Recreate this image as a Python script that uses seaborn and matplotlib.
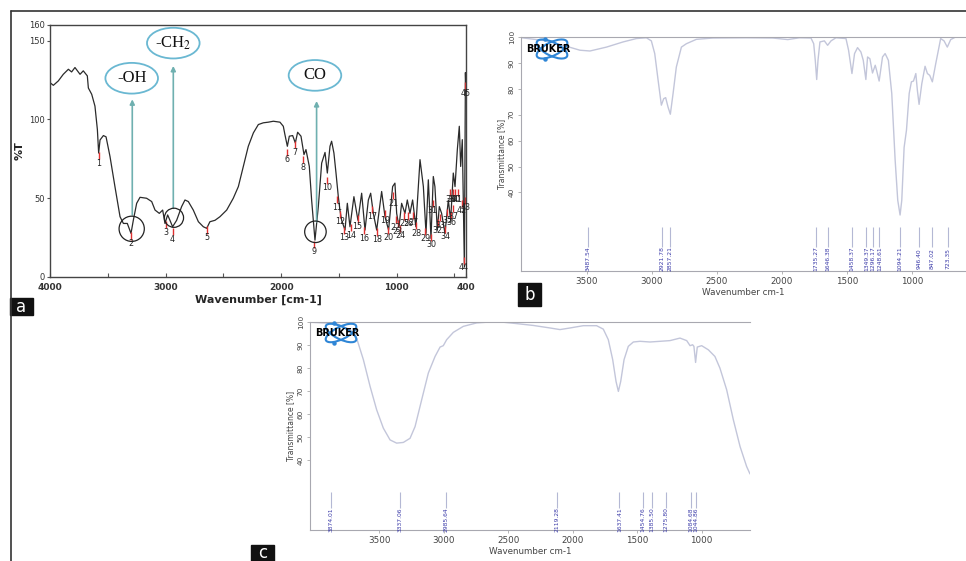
import matplotlib
matplotlib.use("Agg")
import matplotlib.pyplot as plt
import seaborn as sns
import pandas as pd
from matplotlib.patches import Ellipse, Rectangle
from matplotlib.lines import Line2D

# ---------------- panel a : FTIR (%T) ----------------
a_wn = [4000, 3971, 3928, 3885, 3841, 3813, 3784, 3740, 3712, 3677, 3668, 3639,
        3611, 3590, 3579, 3567, 3538, 3515, 3481, 3438, 3394, 3365, 3331, 3299,
        3279, 3250, 3221, 3164, 3120, 3091, 3054, 3025, 3005, 2982, 2962, 2939,
        2904, 2861, 2832, 2803, 2760, 2716, 2673, 2644, 2616, 2572, 2529, 2471,
        2414, 2370, 2327, 2284, 2240, 2197, 2154, 2111, 2067, 2010, 1981, 1967,
        1946, 1929, 1900, 1877, 1857, 1828, 1802, 1785, 1756, 1736, 1707, 1678,
        1649, 1620, 1600, 1577, 1563, 1543, 1525, 1505, 1491, 1476, 1447, 1427,
        1404, 1370, 1335, 1303, 1274, 1245, 1225, 1202, 1173, 1130, 1101, 1070,
        1035, 1015, 1000, 980, 957, 928, 908, 885, 862, 834, 798, 769, 746, 726,
        703, 683, 669, 648, 631, 611, 582, 553, 533, 510, 495, 475, 458, 446,
        432, 423, 414, 405, 400]
a_T = [123.4, 121.7, 124.5, 128.7, 131.9, 130.2, 133.0, 128.7, 130.9, 127.7, 120.0, 116.0,
       108.5, 93.6, 78.7, 87.0, 89.8, 89.0, 76.6, 57.4, 38.3, 34.0, 34.0, 27.7,
       36.0, 46.8, 50.6, 50.0, 47.9, 42.5, 40.4, 42.5, 34.0, 39.4, 36.0, 31.9,
       36.0, 44.7, 48.9, 47.9, 42.5, 35.1, 31.9, 30.9, 35.1, 36.0, 38.3, 42.5,
       50.0, 57.4, 70.2, 83.0, 91.5, 96.8, 97.9, 98.3, 98.9, 98.3, 95.7, 90.4,
       83.0, 89.4, 89.8, 85.1, 91.9, 89.4, 77.7, 80.9, 70.2, 48.9, 23.4, 44.7,
       72.3, 79.1, 66.0, 83.0, 86.2, 78.7, 66.0, 51.0, 42.5, 36.0, 29.8, 46.8,
       31.9, 51.0, 36.0, 53.2, 29.8, 48.9, 53.2, 40.4, 29.8, 54.3, 38.3, 29.8,
       57.4, 59.6, 40.4, 31.9, 46.8, 40.4, 48.9, 40.4, 48.9, 31.9, 74.5, 57.4, 27.7, 61.7,
       24.5, 63.8, 57.4, 29.8, 44.7, 40.4, 27.7, 48.9, 36.0, 66.0, 57.4, 80.9, 95.7, 70.2,
       87.2, 44.7, 6.4, 129.8, 117.0]

# numbered peaks (label position)
a_lbl = [str(i) for i in range(1, 46)]
a_lbl_wn = [3579, 3299, 2999, 2939, 2644, 1946, 1880, 1808, 1713, 1600,
            1514, 1491, 1453, 1398, 1338, 1280, 1211, 1173, 1101, 1072,
            1029, 1006, 992, 971, 934, 899, 856, 833, 752, 703,
            689, 646, 625, 582, 562, 530, 510, 539, 516, 493,
            470, 435, 406, 418, 406]
a_lbl_T = [72.3, 21.3, 28.3, 24.0, 25.1, 74.5, 79.1, 69.8, 16.1, 56.8,
           44.3, 35.0, 24.9, 26.4, 32.1, 24.5, 38.3, 23.8, 35.7, 24.9,
           46.8, 31.7, 29.0, 26.2, 34.0, 34.0, 34.5, 27.7, 24.3, 20.4,
           42.1, 29.8, 32.8, 25.5, 36.0, 34.3, 38.7, 49.0, 49.0, 49.0,
           49.0, 42.1, 44.0, 6.0, 116.6]

# functional group call-outs
grp_names = ["-OH", "-CH$_2$", "CO"]
grp_wn = [3288, 2933, 1693]
grp_from_T = [39.4, 43.6, 35.1]
grp_to_T = [112.8, 134.0, 111.7]
grp_box_wn = [3293, 2933, 1707]
grp_box_T = [126.2, 148.5, 128.0]
circ_wn = [3293, 2927, 1703]
circ_T = [30.6, 37.6, 28.7]
circ_size = [330, 190, 240]

# ---------------- panel b ----------------
b_wn = [3998, 3807, 3653, 3551, 3474, 3347, 3219, 3117, 3040, 3002, 2976, 2950,
        2925, 2907, 2892, 2874, 2856, 2835, 2810, 2771, 2733, 2656, 2529, 2273,
        2068, 1953, 1864, 1775, 1754, 1742, 1731, 1721, 1706, 1672, 1647, 1621,
        1583, 1506, 1486, 1460, 1440, 1417, 1391, 1373, 1353, 1340, 1322, 1302,
        1281, 1271, 1251, 1225, 1205, 1180, 1154, 1128, 1108, 1090, 1077, 1059,
        1041, 1020, 1003, 987, 969, 957, 944, 923, 898, 880, 862, 842, 816, 778,
        752, 727, 701, 663, 594]
b_T = [99.7, 98.5, 96.4, 94.9, 94.6, 96.1, 98.1, 99.4, 99.7, 98.5, 93.6, 83.3,
       73.7, 76.2, 76.6, 73.0, 70.2, 78.2, 88.4, 96.1, 97.4, 99.1, 99.6, 99.7,
       99.6, 99.0, 99.7, 99.6, 97.4, 91.0, 83.6, 91.0, 98.1, 98.5, 96.8, 98.5,
       99.7, 99.4, 94.9, 85.9, 93.6, 95.9, 94.2, 91.0, 83.6, 92.3, 91.6, 86.1,
       89.1, 87.2, 83.0, 92.3, 93.6, 91.0, 78.2, 52.5, 37.0, 31.3, 37.0, 57.4,
       64.0, 78.2, 82.7, 83.0, 85.9, 79.4, 74.0, 82.0, 88.7, 85.9, 85.2, 82.7, 89.7, 99.4,
       98.5, 96.1, 99.0, 100.0, 100.0]
b_peaks = [3487.54, 2921.78, 2857.21, 1735.27, 1646.38, 1458.37, 1349.37,
           1296.17, 1248.61, 1094.21, 946.40, 847.02, 723.35]

# ---------------- panel c ----------------
c_wn = [4038, 3831, 3728, 3681, 3624, 3572, 3521, 3469, 3417, 3366, 3314, 3262,
        3223, 3172, 3120, 3068, 3029, 3004, 2978, 2926, 2849, 2745, 2642, 2538,
        2435, 2306, 2176, 2099, 2021, 1918, 1815, 1763, 1724, 1690, 1664, 1646,
        1628, 1602, 1569, 1530, 1478, 1401, 1323, 1246, 1168, 1116, 1090, 1070,
        1060, 1047, 1034, 1000, 948, 897, 858, 832, 806, 754, 702, 651, 625]
c_T = [99.9, 99.3, 96.7, 93.8, 83.6, 72.0, 61.8, 53.8, 48.7, 47.3, 47.6, 49.4,
       54.5, 66.1, 77.8, 85.0, 89.1, 89.7, 92.3, 95.5, 98.1, 99.6, 100.0, 99.9,
       99.3, 98.5, 97.4, 96.7, 97.4, 98.4, 98.4, 96.9, 92.3, 83.6, 74.1, 69.8,
       74.1, 83.6, 89.4, 91.3, 91.6, 91.3, 91.6, 91.9, 93.0, 91.9, 89.7, 90.1,
       89.4, 82.4, 89.1, 89.7, 87.9, 85.0, 79.9, 75.2, 70.5, 57.4, 45.8, 37.1, 33.9]
c_peaks = [3874.01, 3337.06, 2985.64, 2119.28, 1637.41, 1454.76, 1385.50,
           1275.80, 1084.68, 1044.86]

sns.set_style("ticks")
plt.rcParams["font.family"] = ["DejaVu Sans"]
plt.rcParams["mathtext.fontset"] = "stix"

W, H = 966, 561
fig = plt.figure(figsize=(W / 100, H / 100), dpi=100)


def px_axes(x0, y0, x1, y1):
    # axes box given in pixel coords (top-left origin)
    return fig.add_axes([x0 / W, 1 - y1 / H, (x1 - x0) / W, (y1 - y0) / H])


# ---------- a ----------
ax = px_axes(50, 25, 466, 277)
df_a = pd.DataFrame({"wn": a_wn, "T": a_T})
sns.lineplot(data=df_a, x="wn", y="T", ax=ax, color="#2b2b2b", lw=0.9, sort=False)
ax.set_xlim(4000, 400)
ax.set_ylim(0, 160)
ax.set_xticks([4000, 3500, 3000, 2500, 2000, 1500, 1000, 500, 400])
ax.set_xticklabels(["4000", "", "3000", "", "2000", "", "1000", "", "400"],
                   fontsize=6.5, fontweight="bold", color="#333")
ax.set_yticks([0, 50, 100, 150, 160])
ax.set_yticklabels(["0", "50", "100", "150", "160"], fontsize=6, color="#333")
ax.tick_params(axis="x", direction="in", length=3, pad=4, color="#555")
ax.tick_params(axis="y", direction="out", length=2.5, pad=1, color="#555")
for s in ax.spines.values():
    s.set_color("#444")
    s.set_linewidth(1.0)
ax.set_xlabel("Wavenumber [cm-1]", fontsize=8, fontweight="bold", labelpad=2)
ax.set_ylabel("%T", fontsize=8, fontweight="bold", labelpad=3)

ax.vlines(a_lbl_wn, [t + 2.5 for t in a_lbl_T], [t + 7 for t in a_lbl_T],
          color="#e03030", lw=1.0)
for lb, w, t in zip(a_lbl, a_lbl_wn, a_lbl_T):
    ax.text(w, t, lb, fontsize=5.8, ha="center", va="center", color="#222")

ax.scatter(circ_wn, circ_T, s=circ_size, facecolors="none", edgecolors="#222",
           linewidths=0.9, zorder=4)
for w, t0, t1 in zip(grp_wn, grp_from_T, grp_to_T):
    ax.annotate("", xy=(w, t1), xytext=(w, t0),
                arrowprops=dict(arrowstyle="-|>", color="#6fb0b0", lw=1.2,
                                mutation_scale=7, shrinkA=0, shrinkB=0))
for name, w, t in zip(grp_names, grp_box_wn, grp_box_T):
    ax.add_patch(Ellipse((w, t), 455, 19.5, fill=False, ec="#6ab8d2", lw=1.3))
    ax.text(w, t, name, fontsize=12, ha="center", va="center",
            family="Liberation Serif", color="#111")


# ---------- bruker logo ----------
def bruker_logo(cx, cy, w=54, h=26):
    lg = px_axes(cx - w / 2, cy - h / 2, cx + w / 2, cy + h / 2)
    lg.set_xlim(0, w)
    lg.set_ylim(0, h)
    lg.axis("off")
    for ang in (26, -26):
        lg.add_patch(Ellipse((w / 2 + 4, h / 2), w * 0.62, h * 0.52, angle=ang,
                             fill=False, ec="#2f86d6", lw=1.5))
    lg.plot([w / 2 - 3, w / 2 - 3], [h * 0.9, h * 0.1], "o", ms=2.2, color="#2f86d6")
    lg.text(w / 2, h / 2, "BRUKER", fontsize=7, fontweight="heavy",
            ha="center", va="center", color="black")


def bruker_panel(box, wn, T, xlim, ylim, peaks, line_T, text_T):
    bx = px_axes(*box)
    d = pd.DataFrame({"wn": wn, "T": T})
    sns.lineplot(data=d, x="wn", y="T", ax=bx, color="#c3c6da", lw=1.0, sort=False)
    bx.set_xlim(*xlim)
    bx.set_ylim(*ylim)
    bx.set_xticks([3500, 3000, 2500, 2000, 1500, 1000])
    bx.set_xticklabels(["3500", "3000", "2500", "2000", "1500", "1000"],
                       fontsize=6.3, color="#444")
    bx.set_yticks([40, 50, 60, 70, 80, 90, 100])
    bx.set_yticklabels(["40", "50", "60", "70", "80", "90", "100"],
                       fontsize=5.3, color="#444", rotation=90, va="center")
    bx.tick_params(length=2.5, width=0.6, color="#aaa", pad=2)
    for k in ("left", "bottom", "top"):
        bx.spines[k].set_color("#a8a8b0")
        bx.spines[k].set_linewidth(0.8)
    bx.spines["right"].set_visible(False)
    bx.set_xlabel("Wavenumber cm-1", fontsize=6.3, color="#444", labelpad=1)
    bx.set_ylabel("Transmittance [%]", fontsize=5.5, color="#444", labelpad=2)
    bx.vlines(peaks, line_T[0], line_T[1], color="#b4b8d4", lw=0.8)
    for p in peaks:
        bx.text(p, text_T, f"{p:.2f}", fontsize=4.3, rotation=90,
                ha="center", va="center", color="#3a3aa8")
    return bx


bruker_panel((521, 37, 965, 271), b_wn, b_T, (4004, 591), (9.7, 100),
             b_peaks, (19.0, 26.8), 14.6)
bruker_logo(548, 49)

bruker_panel((310, 322, 750, 530), c_wn, c_T, (4038, 625), (9.5, 100),
             c_peaks, (18.9, 26.2), 14.1)
bruker_logo(337, 333, 54, 24)

# ---------- frame and panel letters ----------
fig.add_artist(Line2D([11 / W, 11 / W], [0, 1 - 11 / H], color="#333", lw=1.2))
fig.add_artist(Line2D([11 / W, 1], [1 - 11 / H, 1 - 11 / H], color="#333", lw=1.2))

for letter, x0, y0, x1, y1 in [("a", 10, 298, 33, 315), ("b", 518, 283, 541, 306),
                               ("c", 251, 545, 274, 561)]:
    fig.add_artist(Rectangle((x0 / W, 1 - y1 / H), (x1 - x0) / W, (y1 - y0) / H,
                             transform=fig.transFigure, color="#111"))
    fig.text((x0 + x1) / 2 / W, 1 - (y0 + y1) / 2 / H, letter, color="white",
             fontsize=12, ha="center", va="center")

plt.savefig("out.png", dpi=100)
